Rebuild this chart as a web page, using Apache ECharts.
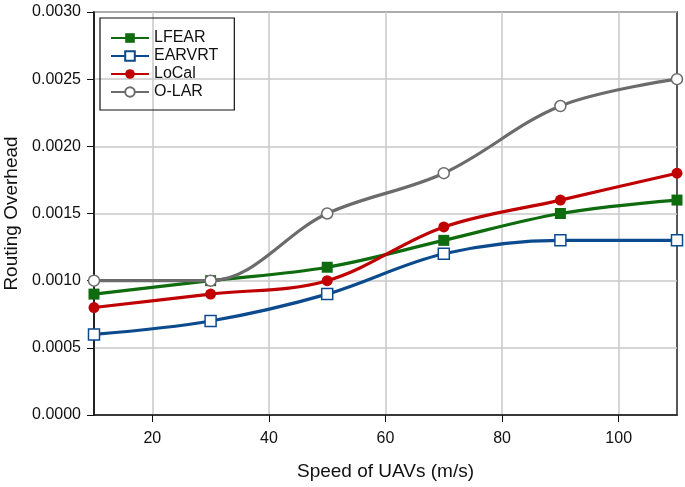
<!DOCTYPE html>
<html><head><meta charset="utf-8">
<script src="https://cdn.jsdelivr.net/npm/echarts@6/dist/echarts.min.js"></script>
<style>html,body{margin:0;padding:0;background:#fff}#c{width:685px;height:487px}</style>
</head><body><div id="c"></div>
<script>
var speeds = [10, 30, 50, 70, 90, 110];
var lfear = [0.0009, 0.0010, 0.0011, 0.0013, 0.0015, 0.0016];
var earvrt = [0.0006, 0.0007, 0.0009, 0.0012, 0.0013, 0.0013];
var local = [0.0008, 0.0009, 0.0010, 0.0014, 0.0016, 0.0018];
var olar = [0.0010, 0.0010, 0.0015, 0.0018, 0.0023, 0.0025];
var xTicks = [20, 40, 60, 80, 100];

function pairs(v){ return speeds.map(function(s,i){return [s, v[i]];}); }
var font = 'Liberation Sans';
function mk(name, data, color, symbol, hollow){
  return {
    name: name, type: 'line', smooth: 0.35, data: pairs(data),
    symbol: symbol, symbolSize: 11, showSymbol: true,
    lineStyle: {color: color, width: 3.2},
    itemStyle: {color: hollow ? '#fff' : color, borderColor: color, borderWidth: hollow ? 1.5 : 0},
    emphasis: {disabled: true}
  };
}
var chart = echarts.init(document.getElementById('c'), null, {renderer: 'canvas'});
chart.setOption({
  animation: false,
  backgroundColor: '#fff',
  grid: {left: 94, right: 8, top: 12, bottom: 72, show: true, borderColor: '#222', borderWidth: 1.5,
         containLabel: false, outerBoundsMode: 'none'},
  legend: {
    orient: 'vertical', left: 100, top: 18, padding: [12, 16, 10, 10],
    borderColor: '#111', borderWidth: 1.2, itemGap: 2, itemWidth: 38, itemHeight: 12,
    textStyle: {fontFamily: font, fontSize: 16, color: '#111'},
    data: ['LFEAR', 'EARVRT', 'LoCal', 'O-LAR']
  },
  xAxis: {
    type: 'value', min: 10, max: 110,
    name: 'Speed of UAVs (m/s)', nameLocation: 'middle', nameGap: 47,
    nameTextStyle: {fontFamily: font, fontSize: 19, color: '#111'},
    axisLine: {lineStyle: {color: '#111', width: 1.5}},
    axisTick: {show: true, customValues: xTicks, length: 7, lineStyle: {color: '#111'}},
    axisLabel: {customValues: xTicks, fontFamily: font, fontSize: 16, color: '#111', margin: 16},
    splitLine: {show: true, lineStyle: {color: '#c8c8c8', width: 1.5}}
  },
  yAxis: {
    type: 'value', min: 0, max: 0.003, interval: 0.0005,
    name: 'Routing Overhead', nameLocation: 'middle', nameGap: 72,
    nameTextStyle: {fontFamily: font, fontSize: 19, color: '#111'},
    axisLine: {show: true, lineStyle: {color: '#111', width: 1.5}},
    axisTick: {show: true, length: 7, lineStyle: {color: '#111'}},
    axisLabel: {fontFamily: font, fontSize: 16, color: '#111', margin: 13,
      formatter: function(v){ return v.toFixed(4); }},
    splitLine: {show: true, lineStyle: {color: '#c8c8c8', width: 1.5}}
  },
  series: [
    mk('LFEAR', lfear, '#0e6b0e', 'rect', false),
    mk('EARVRT', earvrt, '#0c4a8e', 'rect', true),
    mk('LoCal', local, '#c00000', 'circle', false),
    mk('O-LAR', olar, '#6b6b6b', 'circle', true)
  ]
});
</script></body></html>
